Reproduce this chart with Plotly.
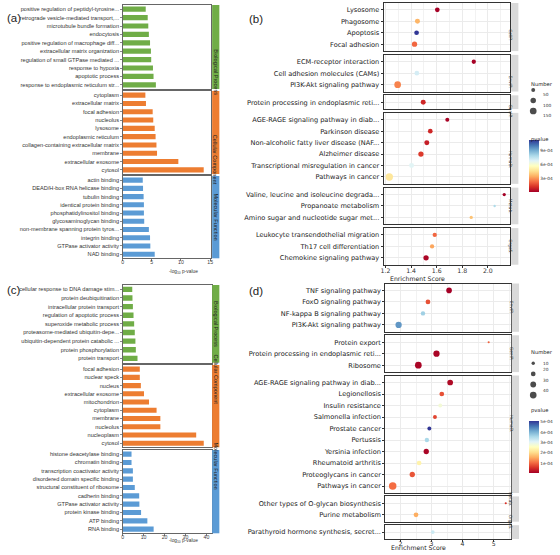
import plotly.graph_objects as go

W, H = 560, 555

# ---------------- Panel (a) data ----------------
a_bp_terms = ["positive regulation of peptidyl-tyrosine...", "retrograde vesicle-mediated transport,...",
              "microtubule bundle formation", "endocytosis", "positive regulation of macrophage diff...",
              "extracellular matrix organization", "regulation of small GTPase mediated ...",
              "response to hypoxia", "apoptotic process", "response to endoplasmic reticulum str..."]
a_bp_vals = [3.96, 4.3, 4.4, 4.5, 4.7, 4.85, 4.9, 5.2, 5.3, 5.7]
a_cc_terms = ["cytoplasm", "extracellular matrix", "focal adhesion", "nucleolus", "lysosome",
              "endoplasmic reticulum", "collagen-containing extracellular matrix", "membrane",
              "extracellular exosome", "cytosol"]
a_cc_vals = [3.9, 4.0, 5.15, 5.25, 5.5, 5.65, 5.8, 5.9, 9.55, 13.9]
a_mf_terms = ["actin binding", "DEAD/H-box RNA helicase binding", "tubulin binding", "identical protein binding",
              "phosphatidylinositol binding", "glycosaminoglycan binding", "non-membrane spanning protein tyros...",
              "integrin binding", "GTPase activator activity", "NAD binding"]
a_mf_vals = [3.45, 3.5, 3.6, 3.65, 3.65, 3.7, 4.5, 4.7, 4.75, 5.5]

# ---------------- Panel (c) data ----------------
c_bp_terms = ["cellular response to DNA damage stim...", "protein deubiquitination", "intracellular protein transport",
              "regulation of apoptotic process", "superoxide metabolic process", "proteasome-mediated ubiquitin-depe...",
              "ubiquitin-dependent protein catabolic ...", "protein phosphorylation", "protein transport"]
c_bp_vals = [4.6, 4.7, 4.9, 5.2, 5.5, 5.8, 6.1, 6.3, 7.1]
c_cc_terms = ["focal adhesion", "nuclear speck", "nucleus", "extracellular exosome", "mitochondrion", "cytoplasm",
              "membrane", "nucleolus", "nucleoplasm", "cytosol"]
c_cc_vals = [8.2, 8.2, 8.7, 10.2, 12.6, 16.2, 18.0, 18.0, 35.1, 38.7]
c_mf_terms = ["histone deacetylase binding", "chromatin binding", "transcription coactivator activity",
              "disordered domain specific binding", "structural constituent of ribosome", "cadherin binding",
              "GTPase activator activity", "protein kinase binding", "ATP binding", "RNA binding"]
c_mf_vals = [4.25, 4.25, 4.9, 4.9, 5.8, 7.9, 8.0, 8.8, 11.8, 14.8]

go_categories = ["Biological Process", "Cellular Component", "Molecular Function"]

# ---------------- Panel (b) data ----------------
b_facet = ["CellP."] * 4 + ["EnvIP."] * 3 + ["GenIP."] + ["HumaD."] * 6 + ["Metab."] * 3 + ["OrgaS."] * 3
b_terms = ["Lysosome", "Phagosome", "Apoptosis", "Focal adhesion",
           "ECM-receptor interaction", "Cell adhesion molecules (CAMs)", "PI3K-Akt signaling pathway",
           "Protein processing in endoplasmic reti...",
           "AGE-RAGE signaling pathway in diab...", "Parkinson disease", "Non-alcoholic fatty liver disease (NAF...",
           "Alzheimer disease", "Transcriptional misregulation in cancer", "Pathways in cancer",
           "Valine, leucine and isoleucine degrada...", "Propanoate metabolism", "Amino sugar and nucleotide sugar met...",
           "Leukocyte transendothelial migration", "Th17 cell differentiation", "Chemokine signaling pathway"]
b_score = [1.605, 1.45, 1.443, 1.427, 1.89, 1.445, 1.295, 1.495, 1.683, 1.55, 1.523, 1.477, 1.404, 1.23,
           2.128, 2.053, 1.87, 1.585, 1.564, 1.517]
b_pvalue = [2.3e-5, 3.7e-4, 1.13e-3, 2.3e-4, 2.5e-5, 7.1e-4, 2.8e-4, 1.1e-4, 3e-5, 1.1e-4, 9e-5, 1.5e-4,
            6.8e-4, 4.9e-4, 2e-5, 7.9e-4, 4e-4, 2.3e-4, 3.4e-4, 3.5e-5]
b_number = [73, 82, 73, 93, 61, 73, 147, 82, 53, 73, 82, 93, 82, 177, 36, 18, 36, 61, 61, 93]
b_size_breaks = [50, 100, 150]
b_color_ticks = [3e-4, 6e-4, 9e-4]

# ---------------- Panel (d) data ----------------
d_facet = ["EnvIP."] * 4 + ["GenIP."] * 3 + ["HumaD."] * 10 + ["Metab."] * 2 + ["OrgaS."]
d_terms = ["TNF signaling pathway", "FoxO signaling pathway", "NF-kappa B signaling pathway", "PI3K-Akt signaling pathway",
           "Protein export", "Protein processing in endoplasmic reti...", "Ribosome",
           "AGE-RAGE signaling pathway in diab...", "Legionellosis", "Insulin resistance", "Salmonella infection",
           "Prostate cancer", "Pertussis", "Yersinia infection", "Rheumatoid arthritis", "Proteoglycans in cancer",
           "Pathways in cancer", "Other types of O-glycan biosynthesis", "Purine metabolism",
           "Parathyroid hormone synthesis, secret..."]
d_score = [3.565, 2.885, 2.725, 1.94, 4.84, 3.16, 2.575, 3.6, 3.33, 3.28, 3.11, 2.93, 2.85, 2.83, 2.6, 2.38,
           1.75, 5.39, 2.5, 3.04]
d_pvalue = [1e-5, 8.7e-5, 3.7e-4, 4.3e-4, 1e-4, 1.5e-5, 1.5e-5, 2e-5, 8.7e-5, 2.8e-4, 7.7e-5, 5.1e-4, 3.6e-4,
            1.5e-5, 2.4e-4, 9e-5, 1.1e-4, 6e-5, 1.6e-4, 3.3e-4]
d_number = [28, 20, 17, 35, 4, 35, 40, 29, 20, 14, 14, 14, 17, 25, 20, 25, 50, 4, 20, 12]
d_size_breaks = [10, 20, 30, 40]
d_color_ticks = [1e-4, 2e-4, 3e-4, 4e-4, 5e-4]

# ---------------- styling ----------------
GREEN, ORANGE, BLUE = "#70AD47", "#ED7D31", "#5B9BD5"
RDYLBU = ["#a50026", "#d73027", "#f46d43", "#fdae61", "#fee090", "#ffffbf",
          "#e0f3f8", "#abd9e9", "#74add1", "#4575b4", "#313695"]
CSCALE = [[i / 10, c] for i, c in enumerate(RDYLBU)]
BAR_FONT = "Liberation Sans, Arial, sans-serif"
DOT_FONT = "DejaVu Sans, sans-serif"


def fx(px):
    return px / W


def fy(py):
    return 1 - py / H


fig = go.Figure()
layout = {}
shapes = []
annotations = []
ax_count = [0]


def new_axes(xpx, ypx):
    ax_count[0] += 1
    i = ax_count[0]
    xa = "xaxis" if i == 1 else f"xaxis{i}"
    ya = "yaxis" if i == 1 else f"yaxis{i}"
    xr = "x" if i == 1 else f"x{i}"
    yr = "y" if i == 1 else f"y{i}"
    layout[xa] = dict(domain=[fx(xpx[0]), fx(xpx[1])], anchor=yr)
    layout[ya] = dict(domain=[fy(ypx[1]), fy(ypx[0])], anchor=xr)
    return xa, ya, xr, yr


def bar_panel(groups, x0, x1, ybounds, xmax, xticks, strip, title_y):
    for gi, (name, terms, vals, color) in enumerate(groups):
        yt, yb = ybounds[gi]
        xa, ya, xr, yr = new_axes((x0, x1), (yt, yb))
        fig.add_trace(go.Bar(x=vals, y=terms, orientation="h", marker=dict(color=color, line=dict(width=0)),
                             width=0.62, xaxis=xr, yaxis=yr, showlegend=False))
        last = gi == len(groups) - 1
        layout[xa].update(range=[0, xmax], tickmode="array", tickvals=xticks, showticklabels=last,
                          ticks="outside" if last else "", ticklen=1.5, tickcolor="#777",
                          ticklabelstandoff=-3,
                          showline=True, mirror=True, linecolor="#666", linewidth=1,
                          showgrid=False, zeroline=False,
                          tickfont=dict(family=BAR_FONT, size=5.2, color="#404040"))
        layout[ya].update(type="category", tickmode="array", tickvals=terms, ticktext=terms,
                          range=[len(terms) - 0.5, -0.5], showline=True, mirror=True,
                          linecolor="#666", linewidth=1, ticks="outside", ticklen=1.5, tickcolor="#888",
                          showgrid=False, zeroline=False,
                          tickfont=dict(family=BAR_FONT, size=5.6, color="#333"))
        shapes.append(dict(type="rect", xref="paper", yref="paper", x0=fx(strip[0]), x1=fx(strip[1]),
                           y0=fy(yb), y1=fy(yt), fillcolor=color, line=dict(width=0)))
        annotations.append(dict(text=name, xref="paper", yref="paper", x=fx((strip[0] + strip[1]) / 2),
                                y=fy((yt + yb) / 2), showarrow=False, textangle=90,
                                font=dict(family=BAR_FONT, size=5.6, color="#222")))
    annotations.append(dict(text="-log<sub>10</sub> p-value", xref="paper", yref="paper",
                            x=fx((x0 + x1) / 2), y=fy(title_y), showarrow=False,
                            font=dict(family=BAR_FONT, size=4.8, color="#333")))


def dot_panel(facets, terms, scores, pvals, nums, x0, x1, top, unit, gap, xrange, dtick, tick0, minor_dtick,
              tickfmt, cax, sizeref, strip, title_y, standoff):
    order = []
    for f in facets:
        if f not in order:
            order.append(f)
    y = top
    for k, f in enumerate(order):
        idx = [j for j, ff in enumerate(facets) if ff == f]
        n = len(idx)
        h = (n + 0.2) * unit
        xa, ya, xr, yr = new_axes((x0, x1), (y, y + h))
        t = [terms[j] for j in idx]
        fig.add_trace(go.Scatter(
            x=[scores[j] for j in idx], y=t, mode="markers",
            marker=dict(size=[nums[j] for j in idx], sizemode="area", sizeref=sizeref,
                        color=[pvals[j] for j in idx], coloraxis=cax, line=dict(width=0), opacity=1),
            xaxis=xr, yaxis=yr, showlegend=False, cliponaxis=False))
        last = k == len(order) - 1
        layout[xa].update(range=xrange, tickmode="linear", dtick=dtick, tick0=tick0, tickformat=tickfmt,
                          showticklabels=last, ticks="outside" if last else "", ticklen=2, tickcolor="#333",
                          ticklabelstandoff=standoff,
                          showline=True, mirror=True, linecolor="#333", linewidth=1,
                          showgrid=True, gridcolor="#EBEBEB", gridwidth=1, zeroline=False,
                          minor=dict(dtick=minor_dtick, tick0=tick0, showgrid=True, gridcolor="#F2F2F2",
                                     gridwidth=0.6, ticks=""),
                          tickfont=dict(family=DOT_FONT, size=6.2, color="#333"))
        layout[ya].update(type="category", tickmode="array", tickvals=t, ticktext=t,
                          range=[n - 0.4, -0.6], showline=True, mirror=True, linecolor="#333", linewidth=1,
                          ticks="outside", ticklen=2, tickcolor="#333", showgrid=True, gridcolor="#EBEBEB",
                          gridwidth=1, zeroline=False,
                          tickfont=dict(family=DOT_FONT, size=6.6, color="#1A1A1A"))
        shapes.append(dict(type="rect", xref="paper", yref="paper", x0=fx(strip[0]), x1=fx(strip[1]),
                           y0=fy(y + h), y1=fy(y), fillcolor="#D9D9D9", line=dict(width=0)))
        annotations.append(dict(text=f, xref="paper", yref="paper", x=fx((strip[0] + strip[1]) / 2),
                                y=fy(y + h / 2), showarrow=False, textangle=90,
                                font=dict(family=DOT_FONT, size=4.3, color="#333")))
        y += h + gap
    annotations.append(dict(text="Enrichment Score", xref="paper", yref="paper", x=fx((x0 + x1) / 2),
                            y=fy(title_y), showarrow=False,
                            font=dict(family=DOT_FONT, size=6.2, color="#1A1A1A")))


# ---------- (a) ----------
bar_panel([(go_categories[0], a_bp_terms, a_bp_vals, GREEN),
           (go_categories[1], a_cc_terms, a_cc_vals, ORANGE),
           (go_categories[2], a_mf_terms, a_mf_vals, BLUE)],
          120.7, 210, [(5, 89), (91, 174), (176, 258.3)], 15.17, [0, 5, 10, 15], (211, 218.3), 271.5)

# ---------- (c) ----------
bar_panel([(go_categories[0], c_bp_terms, c_bp_vals, GREEN),
           (go_categories[1], c_cc_terms, c_cc_vals, ORANGE),
           (go_categories[2], c_mf_terms, c_mf_vals, BLUE)],
          120.7, 210.7, [(285, 362.7), (365, 447.3), (450, 533.3)], 42.55, [0, 10, 20, 30, 40],
          (211, 218.3), 545.5)

# ---------- (b) ----------
B_SIZEREF = 6.6
dot_panel(b_facet, b_terms, b_score, b_pvalue, b_number, 384, 511.3, 3, 11.45, 3.8,
          [1.185, 2.171], 0.2, 1.2, 0.1, ".1f", "coloraxis", B_SIZEREF, (512.7, 520), 278.5, -2)

# ---------- (d) ----------
D_SIZEREF = 1.78
dot_panel(d_facet, d_terms, d_score, d_pvalue, d_number, 385.7, 512.3, 283.5, 11.5, 3.5,
          [1.51, 5.55], 1, 0, 0.5, "d", "coloraxis2", D_SIZEREF, (513.3, 520.7), 553, -3)

# ---------- size legends (hidden overlay axes in pixel units) ----------
xa, ya, xr, yr = new_axes((522, 560), (0, 555))
layout[xa].update(range=[522, 560], visible=False, fixedrange=True)
layout[ya].update(range=[555, 0], visible=False, fixedrange=True)
for breaks, sref, y0, step in [(b_size_breaks, B_SIZEREF, 90, 10.5), (d_size_breaks, D_SIZEREF, 363.3, 10.6)]:
    ys = [y0 + i * step for i in range(len(breaks))]
    fig.add_trace(go.Scatter(x=[535] * len(breaks), y=ys, mode="markers",
                             marker=dict(size=breaks, sizemode="area", sizeref=sref, color="black",
                                         line=dict(width=0)),
                             xaxis=xr, yaxis=yr, showlegend=False, hoverinfo="skip"))
    for v, yy in zip(breaks, ys):
        annotations.append(dict(text=str(v), xref="paper", yref="paper", x=fx(542.5), y=fy(yy),
                                xanchor="left", showarrow=False,
                                font=dict(family=DOT_FONT, size=4.3, color="#333")))

for txt, yy in [("Number", 79), ("pvalue", 133.5), ("Number", 352), ("pvalue", 415.5)]:
    annotations.append(dict(text=txt, xref="paper", yref="paper", x=fx(530.3), y=fy(yy), xanchor="left",
                            showarrow=False, font=dict(family=DOT_FONT, size=5.2, color="#1A1A1A")))


# ---------- colour axes ----------
def fmt_ticks(ticks):
    out = []
    for t in ticks:
        m, e = f"{t:.0e}".split("e")
        out.append(f"{m}e-{abs(int(e)):02d}")
    return out


def cbar(top_px, len_px, ticks):
    return dict(x=fx(530.8), xanchor="left", y=fy(top_px), yanchor="top", len=len_px, lenmode="pixels",
                thickness=10, thicknessmode="pixels", outlinewidth=0, xpad=0, ypad=0,
                tickmode="array", tickvals=ticks, ticktext=fmt_ticks(ticks),
                ticks="", tickfont=dict(family=DOT_FONT, size=4.3, color="#333"))


layout["coloraxis"] = dict(colorscale=CSCALE, cmin=min(b_pvalue), cmax=max(b_pvalue),
                           colorbar=cbar(140, 52, b_color_ticks))
layout["coloraxis2"] = dict(colorscale=CSCALE, cmin=min(d_pvalue), cmax=max(d_pvalue),
                            colorbar=cbar(420.7, 52, d_color_ticks))

# ---------- panel tags ----------
for tag, x, y in [("(a)", 2, 9.5), ("(b)", 246, 10.5), ("(c)", 2, 290), ("(d)", 246, 290.5)]:
    annotations.append(dict(text=tag, xref="paper", yref="paper", x=fx(x), y=fy(y), xanchor="left",
                            showarrow=False, font=dict(family="Liberation Sans, Arial, sans-serif",
                                                        size=11.5, color="#222")))

layout.update(width=W, height=H, margin=dict(l=0, r=0, t=0, b=0), paper_bgcolor="white",
              plot_bgcolor="white", shapes=shapes, annotations=annotations, showlegend=False,
              bargap=0.3)
fig.update_layout(**layout)
fig.write_html("out.html")
